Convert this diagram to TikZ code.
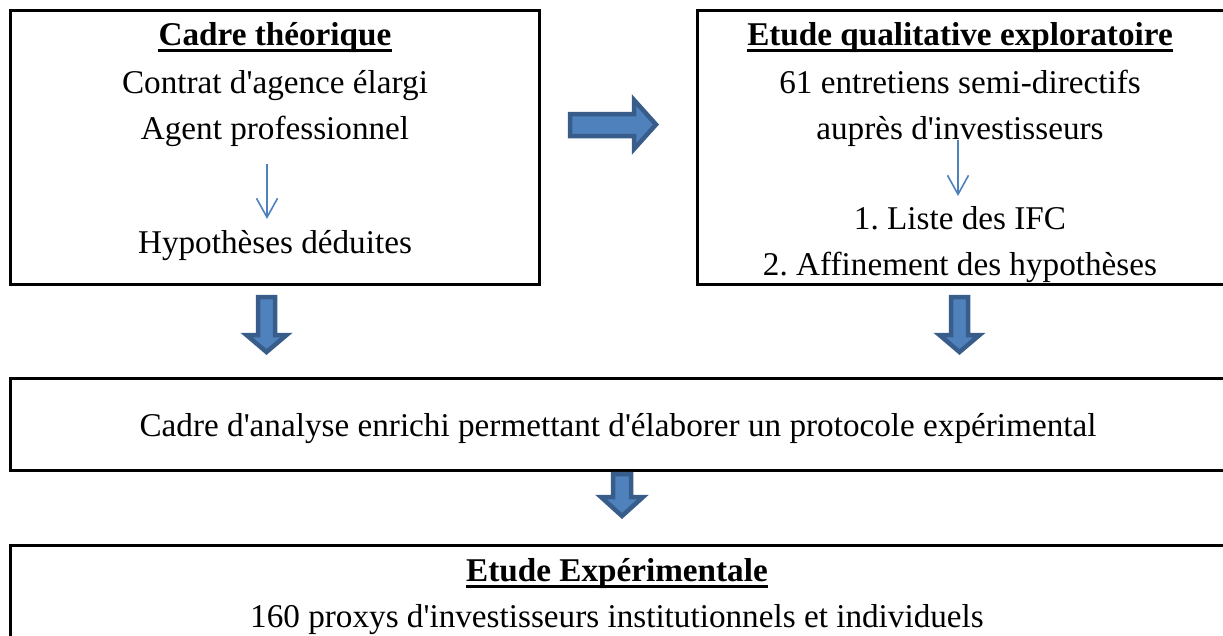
\documentclass[tikz,border=0pt]{standalone}
\usepackage{fontspec}
\setmainfont{Liberation Serif}
\usetikzlibrary{arrows.meta}
\definecolor{arrfill}{HTML}{4F81BD}
\definecolor{arrline}{HTML}{385D8A}
\newcommand{\apos}{\textquotesingle}
\tikzset{
  box/.style={draw=black, line width=3pt},
  txt/.style={anchor=base, inner sep=0pt, font=\fontsize{33.2}{38}\selectfont},
  ttl/.style={txt, font=\fontsize{33.2}{38}\selectfont\bfseries},
  ul/.style={line width=3pt},
  blockarrow/.style={fill=arrfill, draw=arrline, line width=4.5pt, line join=miter},
  thinarrow/.style={draw=arrfill, line width=1.6pt, -{Straight Barb[length=19pt,width=21pt,line width=1.6pt]}}
}
\begin{document}
\frenchspacing
\begin{tikzpicture}[x=1pt,y=-1pt]
\useasboundingbox (0,0) rectangle (1223,635);
\clip (0,0) rectangle (1223,635);
% boxes
\draw[box] (10.5,10.5) rectangle (539.5,284.5);
\draw[box] (697,10.5) rectangle (1230,284.5);
\draw[box] (10.5,378) rectangle (1230,470);
\draw[box] (10.5,545) rectangle (1230,660);
% box 1 texts
\node[ttl] (t1) at (275,45) {Cadre théorique};
\draw[ul] ([yshift=-5pt]t1.base west) -- ([yshift=-5pt]t1.base east);
\node[txt] (a1) at (275,93.5) {Contrat d\apos agence élargi};
\node[txt] (a2) at (275,139.5) {Agent professionnel};
\node[txt] (a3) at (275,253.5) {Hypothèses déduites};
\coordinate (s1) at (267,164);
\coordinate (e1) at (267,219);
\draw[thinarrow] (s1) -- (e1);
% box 2 texts
\node[ttl] (t2) at (960,45) {Etude qualitative exploratoire};
\draw[ul] ([yshift=-5pt]t2.base west) -- ([yshift=-5pt]t2.base east);
\node[txt] (b1) at (960,93.5) {61 entretiens semi-directifs};
\node[txt] (b2) at (960,139.5) {auprès d\apos investisseurs};
\node[txt] (b3) at (960,229.5) {1. Liste des IFC};
\node[txt] (b4) at (960,275.5) {2. Affinement des hypothèses};
\coordinate (s2) at (958,140);
\coordinate (e2) at (958,196);
\draw[thinarrow] (s2) -- (e2);
% box 3
\node[txt] (c1) at (618,436) {Cadre d\apos analyse enrichi permettant d\apos élaborer un protocole expérimental};
% box 4
\node[ttl] (t4) at (617,581.5) {Etude Expérimentale};
\draw[ul] ([yshift=-5pt]t4.base west) -- ([yshift=-5pt]t4.base east);
\node[txt] (d1) at (617,627.5) {160 proxys d\apos investisseurs institutionnels et individuels};
% block arrows
\path[blockarrow] (570,114) -- (634,114) -- (634,100) -- (656,124.5) -- (634,149) -- (634,136) -- (570,136) -- cycle;
\path[blockarrow] (258,297) -- (275,297) -- (275,335) -- (286.5,335) -- (266.5,352) -- (246.5,335) -- (258,335) -- cycle;
\path[blockarrow] (951,297) -- (968,297) -- (968,335) -- (979.5,335) -- (959.5,352) -- (939.5,335) -- (951,335) -- cycle;
\path[blockarrow] (613,474) -- (631,474) -- (631,497) -- (643,497) -- (622,516) -- (601,497) -- (613,497) -- cycle;
\end{tikzpicture}
\end{document}
